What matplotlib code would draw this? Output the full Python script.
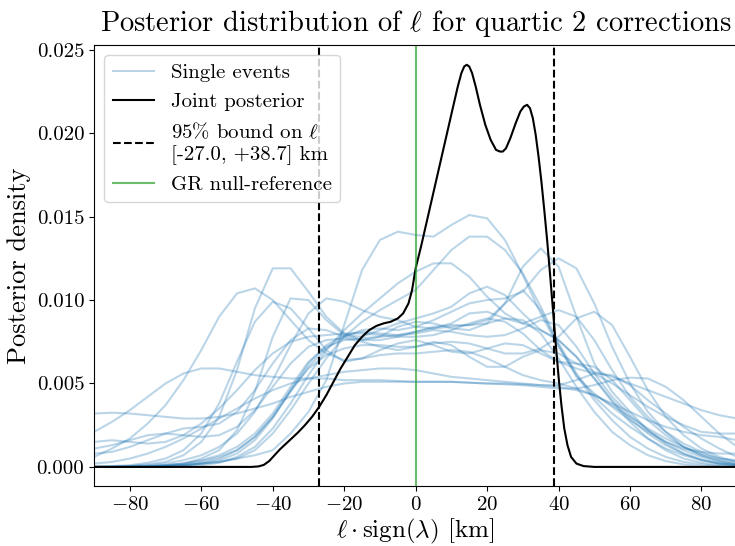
import numpy as np
import matplotlib
matplotlib.use("Agg")
import matplotlib.pyplot as plt

plt.rcParams.update({
    "font.family": "serif",
    "font.serif": ["cmr10"],
    "mathtext.fontset": "cm",
    "axes.formatter.use_mathtext": True,
    "axes.unicode_minus": True,
    "font.size": 15,
})

# Grid (km) on which the single-event posteriors are tabulated
ell_grid = np.arange(-90, 91, 5)

# Single-event posterior densities, in units of 1e-3 per km
ev01 = [0.6, 1.1, 1.7, 2.6, 3.7, 5.2, 7.0, 9.0, 10.4, 10.7, 10.0, 8.8, 7.6, 6.8, 6.4, 6.5, 6.7, 6.8, 6.8, 6.9, 7.0, 6.9, 6.5, 6.0, 5.5, 5.2, 5.0, 4.7, 4.3, 3.7, 3.0, 2.3, 1.7, 1.2, 0.8, 0.5, 0.4]
ev02 = [0, 0, 0.05, 0.15, 0.3, 0.7, 1.5, 3.0, 5.8, 9.5, 11.9, 11.9, 10.5, 9.0, 8.0, 7.6, 7.6, 7.8, 8.1, 8.4, 8.5, 8.5, 8.6, 8.9, 8.8, 8.0, 6.5, 4.8, 3.3, 2.1, 1.3, 0.7, 0.35, 0.15, 0.05, 0, 0]
ev03 = [0, 0, 0, 0.02, 0.1, 0.2, 0.5, 1.0, 2.2, 4.5, 7.8, 10.1, 10.0, 8.8, 7.9, 7.8, 8.2, 8.6, 8.9, 9.2, 9.6, 10.4, 10.8, 10.3, 9.2, 8.2, 7.6, 6.6, 5.3, 4.0, 2.9, 2.0, 1.3, 0.8, 0.45, 0.2, 0.1]
ev04 = [0, 0.05, 0.1, 0.25, 0.5, 1.0, 2.0, 3.8, 6.3, 8.7, 9.9, 9.5, 8.3, 7.0, 6.3, 6.5, 7.0, 7.4, 7.6, 7.3, 6.9, 6.8, 7.1, 7.4, 7.3, 6.8, 6.3, 6.2, 6.0, 5.2, 4.0, 2.8, 1.9, 1.2, 0.7, 0.4, 0.2]
ev05 = [0, 0, 0.05, 0.1, 0.2, 0.4, 0.7, 1.2, 2.0, 3.3, 5.2, 7.3, 9.2, 10.1, 9.9, 9.4, 9.0, 8.8, 8.4, 8.3, 8.6, 9.2, 9.3, 8.9, 8.6, 9.0, 9.4, 9.0, 7.6, 5.8, 4.2, 3.0, 2.1, 1.4, 0.9, 0.5, 0.3]
ev06 = [0, 0, 0, 0, 0.05, 0.1, 0.2, 0.3, 0.5, 0.7, 1.0, 2.0, 3.3, 5.2, 8.5, 11.8, 13.6, 14.1, 13.9, 13.8, 14.5, 15.1, 14.9, 13.6, 11.5, 9.2, 7.2, 5.5, 4.0, 2.8, 1.8, 1.1, 0.6, 0.3, 0.15, 0.05, 0]
ev07 = [0, 0, 0, 0, 0.05, 0.1, 0.2, 0.3, 0.5, 1.0, 2.0, 3.4, 5.0, 6.5, 7.8, 8.7, 9.4, 10.0, 10.6, 11.8, 13.0, 13.8, 13.8, 13.0, 11.6, 9.6, 7.4, 5.6, 4.2, 3.2, 2.4, 1.7, 1.1, 0.7, 0.4, 0.2, 0.1]
ev08 = [0, 0, 0, 0, 0, 0.05, 0.1, 0.25, 0.6, 1.2, 2.3, 3.8, 5.5, 7.0, 8.2, 9.2, 10.1, 11.0, 11.7, 12.2, 12.2, 11.4, 10.2, 9.2, 8.6, 8.2, 7.6, 6.6, 5.3, 3.9, 2.7, 1.7, 1.0, 0.5, 0.25, 0.1, 0.05]
ev09 = [0, 0, 0, 0.05, 0.1, 0.2, 0.4, 0.7, 1.2, 2.0, 3.2, 4.8, 6.3, 7.2, 7.6, 7.7, 7.8, 7.9, 8.1, 8.3, 8.4, 8.5, 8.8, 9.8, 12.0, 13.1, 12.0, 9.0, 6.2, 4.5, 3.3, 2.2, 1.4, 0.8, 0.4, 0.2, 0.1]
ev10 = [0, 0, 0, 0, 0.05, 0.1, 0.25, 0.5, 1.0, 1.8, 3.0, 4.5, 6.0, 7.1, 7.8, 8.2, 8.3, 8.2, 8.4, 8.8, 9.3, 9.8, 10.0, 10.1, 10.5, 11.8, 12.5, 11.9, 9.8, 7.2, 5.0, 3.3, 2.1, 1.2, 0.7, 0.35, 0.15]
ev11 = [0, 0, 0, 0.05, 0.1, 0.2, 0.35, 0.6, 1.0, 1.8, 3.0, 4.6, 5.9, 6.7, 7.1, 7.3, 7.3, 7.2, 7.2, 7.4, 7.5, 7.4, 7.1, 6.8, 6.8, 7.1, 7.8, 8.9, 9.3, 8.5, 6.6, 4.6, 3.0, 1.9, 1.1, 0.6, 0.3]
ev12 = [0.2, 0.3, 0.5, 0.8, 1.2, 1.7, 2.3, 2.9, 3.5, 4.1, 4.6, 5.0, 5.3, 5.5, 5.7, 5.8, 5.9, 5.9, 5.8, 5.6, 5.4, 5.3, 5.2, 5.1, 5.0, 4.9, 4.9, 5.2, 5.6, 5.5, 4.9, 4.0, 3.2, 2.4, 1.7, 1.1, 0.6]
ev13 = [2.1, 2.7, 3.4, 4.2, 5.0, 5.6, 5.9, 5.9, 5.7, 5.5, 5.4, 5.3, 5.3, 5.3, 5.2, 5.2, 5.2, 5.15, 5.1, 5.1, 5.1, 5.05, 5.0, 4.95, 4.9, 4.8, 4.7, 4.7, 4.9, 5.2, 5.35, 5.3, 4.8, 4.0, 3.0, 2.0, 1.2]
ev14 = [3.2, 3.25, 3.2, 3.1, 3.0, 2.9, 2.9, 3.0, 3.2, 3.5, 3.8, 4.2, 4.5, 4.8, 5.0, 5.1, 5.1, 5.1, 5.1, 5.1, 5.1, 5.05, 5.0, 5.0, 4.95, 4.9, 4.8, 4.6, 4.3, 3.8, 3.3, 2.8, 2.4, 2.1, 1.9, 1.8, 1.6]
ev15 = [1.5, 1.6, 1.5, 1.4, 1.5, 1.9, 2.6, 3.5, 4.6, 5.8, 6.8, 7.5, 7.8, 7.9, 8.0, 8.0, 7.9, 7.8, 7.8, 7.9, 8.2, 8.6, 8.9, 8.7, 8.0, 7.0, 6.3, 5.9, 5.6, 5.0, 4.3, 3.6, 3.0, 2.5, 2.1, 2.0, 2.0]
ev16 = [1.1, 1.3, 1.6, 1.9, 2.0, 1.9, 1.8, 1.9, 2.4, 3.4, 4.8, 6.2, 7.2, 7.6, 7.7, 7.5, 7.2, 7.0, 7.2, 7.5, 7.3, 6.6, 6.0, 6.0, 6.6, 7.0, 6.8, 6.2, 5.7, 5.4, 5.0, 4.6, 4.2, 3.8, 3.4, 3.1, 2.9]
ev17 = [0.8, 0.9, 1.2, 1.6, 2.0, 2.3, 2.4, 2.6, 3.3, 4.6, 6.2, 7.6, 8.3, 8.2, 7.8, 7.6, 7.8, 8.4, 8.7, 8.6, 8.3, 8.2, 8.6, 9.8, 10.6, 9.4, 7.3, 5.4, 4.4, 3.6, 2.8, 2.1, 1.5, 1.1, 0.9, 0.8, 0.8]
ev18 = [0, 0, 0, 0, 0.05, 0.1, 0.2, 0.4, 0.8, 1.6, 2.9, 4.6, 6.2, 7.3, 7.9, 8.1, 8.0, 7.9, 8.0, 8.2, 8.1, 7.9, 7.8, 7.9, 8.3, 8.8, 8.5, 7.2, 5.6, 4.2, 3.1, 2.2, 1.5, 1.0, 0.6, 0.3, 0.15]

single_events = [ev01, ev02, ev03, ev04, ev05, ev06, ev07, ev08, ev09,
                 ev10, ev11, ev12, ev13, ev14, ev15, ev16, ev17, ev18]

# Joint posterior, in units of 1e-3 per km
joint_x = [-90, -46, -44, -42.5, -41, -39.5, -38, -36.5, -35, -33, -31, -29, -27, -25, -23, -21,
           -19, -17, -15, -13, -11, -9, -7, -5, -3.5, -2, -1, 0, 1.5, 3, 4.5, 6, 7.5,
           9, 10.5, 11.8, 12.8, 13.6, 14.3, 15.0, 15.8, 16.8, 18, 19.5, 21, 22.5, 23.6,
           24.4, 25.3, 26.5, 28, 29.3, 30.3, 31.2, 32.0, 32.8, 33.6, 34.4, 35.2, 36.0,
           36.8, 37.6, 38.4, 39.2, 40.0, 40.8, 41.6, 42.5, 43.5, 45, 47, 50, 90]
joint_y = [0, 0, 0.03, 0.12, 0.35, 0.7, 1.05, 1.35, 1.65, 2.05, 2.5, 3.0, 3.6, 4.3, 5.1, 5.9,
           6.6, 7.3, 7.8, 8.2, 8.45, 8.6, 8.7, 8.9, 9.2, 9.8, 10.6, 11.9, 13.2, 14.6, 16.0, 17.4, 18.8,
           20.2, 21.6, 22.8, 23.6, 24.0, 24.1, 24.0, 23.6, 22.8, 21.7, 20.5, 19.6, 19.0, 18.9,
           18.9, 19.1, 19.7, 20.6, 21.3, 21.6, 21.7, 21.5, 20.9, 19.9, 18.6, 17.1, 15.4,
           13.6, 11.6, 9.5, 7.4, 5.4, 3.7, 2.3, 1.3, 0.6, 0.2, 0.05, 0, 0]

bound_lo, bound_hi = -27.0, 38.7
gr_value = 0.0
density_unit = 1e-3

fig = plt.figure(figsize=(7.35, 5.46), dpi=100)
ax = fig.add_axes([0.128, 0.110, 0.875, 0.808])

for i, ev in enumerate(single_events):
    ax.plot(ell_grid, np.asarray(ev) * density_unit, color="#1f77b4", alpha=0.3,
            lw=1.5, label="Single events" if i == 0 else None)

ax.plot(joint_x, np.asarray(joint_y) * density_unit, color="black", lw=1.5,
        label="Joint posterior")
ax.axvline(bound_lo, color="black", ls="--", lw=1.5,
           label="95% bound on $\\ell$\n" + f"[{bound_lo:.1f}, +{bound_hi:.1f}] km")
ax.axvline(bound_hi, color="black", ls="--", lw=1.5)
ax.axvline(gr_value, color="#2ca02c", alpha=0.7, lw=1.5, label="GR null-reference")

ax.set_xlim(-90, 90)
ax.set_ylim(-0.00114, 0.0253)
ax.set_xticks([-80, -60, -40, -20, 0, 20, 40, 60, 80])
ax.set_yticks([0, 0.005, 0.01, 0.015, 0.02, 0.025])
ax.set_yticklabels(["0.000", "0.005", "0.010", "0.015", "0.020", "0.025"])

ax.set_xlabel(r"$\ell \cdot \mathrm{sign}(\lambda)$ [km]", fontsize=18, labelpad=2)
ax.set_ylabel("Posterior density", fontsize=19, labelpad=4)
ax.set_title(r"Posterior distribution of $\ell$ for quartic 2 corrections",
             fontsize=20.5, pad=10)

ax.legend(loc="upper left", fontsize=15)

fig.savefig("out.png", dpi=100)
